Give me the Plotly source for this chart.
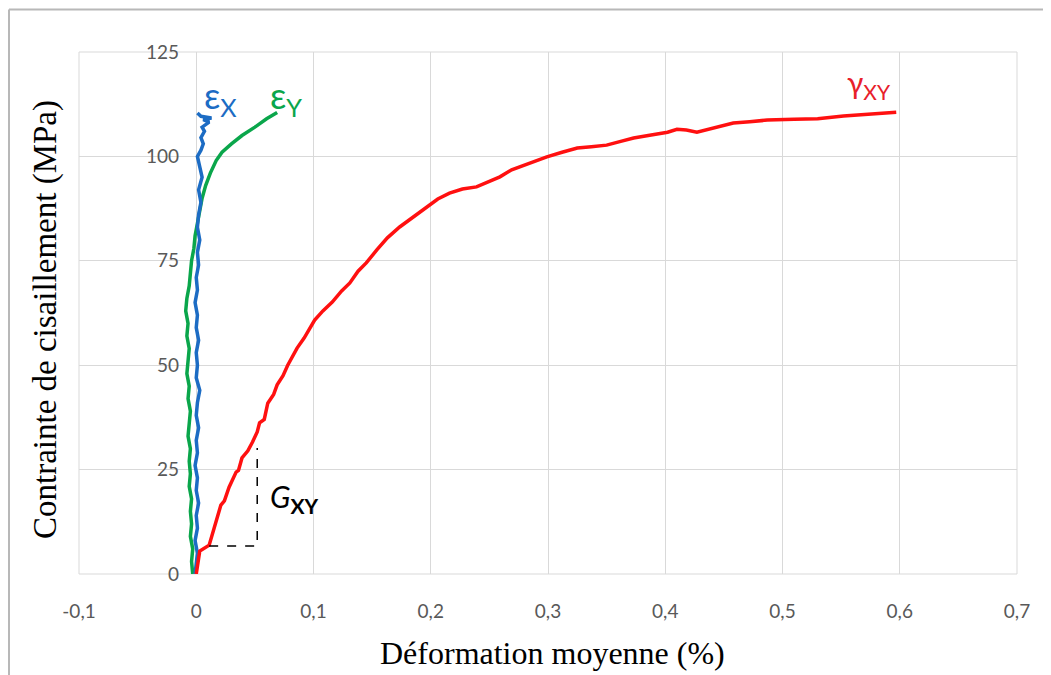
import plotly.graph_objects as go

# gamma_xy (red) : shear strain vs shear stress
gxy_x = [0, 0.002, 0.003, 0.011, 0.014, 0.016, 0.021, 0.024, 0.028, 0.034, 0.036, 0.039,
         0.044, 0.048, 0.052, 0.054, 0.058, 0.061, 0.066, 0.069, 0.074, 0.078, 0.082, 0.086,
         0.092, 0.097, 0.101, 0.108, 0.116, 0.124, 0.131, 0.138, 0.145, 0.154, 0.163, 0.1735,
         0.185, 0.197, 0.206, 0.216, 0.227, 0.239, 0.249, 0.259, 0.269, 0.279, 0.289, 0.299,
         0.312, 0.325, 0.337, 0.350, 0.362, 0.373, 0.388, 0.402, 0.410, 0.418, 0.427, 0.442,
         0.458, 0.472, 0.487, 0.510, 0.530, 0.552, 0.570, 0.586, 0.597]
gxy_y = [0, 3, 5.5, 6.9, 10, 11.3, 16.5, 17.5, 20.8, 24.4, 24.8, 27.8,
         29.5, 31.6, 34, 36.2, 37, 40.9, 43, 45.3, 47.5, 50.0, 52, 54.1,
         56.5, 58.9, 60.8, 63, 65.1, 67.8, 69.7, 72.5, 74.5, 77.6, 80.5, 83.1,
         85.5, 87.9, 89.8, 91.2, 92.2, 92.7, 94.0, 95.1, 96.8, 97.9, 98.8, 99.9,
         101.0, 102.0, 102.3, 102.7, 103.6, 104.4, 105.1, 105.8, 106.5, 106.3, 105.8, 106.8,
         108.0, 108.3, 108.7, 108.9, 109.0, 109.7, 110.0, 110.4, 110.6]

# eps_x (blue)
ex_x = [-0.001, 0.0, 0.001, -0.001, 0.001, 0.0, 0.002, 0.0, 0.001, -0.001, 0.001, 0.0,
        0.002, 0.0, 0.001, 0.003, 0.0, 0.001, 0.0, 0.002, 0.0, 0.001, -0.001, 0.001,
        0.0, 0.002, 0.001, 0.003, 0.001, 0.002, 0.004, 0.002, 0.005, 0.003, 0.001, 0.004,
        0.006, 0.004, 0.007, 0.005, 0.011, 0.006, 0.013, 0.004, 0.001]
ex_y = [0, 2, 5, 8, 11, 14, 17, 20, 23, 26, 29, 32,
        35, 38, 41, 44, 47, 50, 53, 56, 59, 62, 65, 68,
        71, 74, 77, 80, 83, 86, 89, 92, 95, 97.5, 100, 101.5,
        103, 104.5, 106, 107, 108.2, 108.8, 109.2, 109.6, 110.4]

# eps_y (green)
ey_x = [-0.003, -0.004, -0.003, -0.005, -0.004, -0.005, -0.004, -0.006, -0.005, -0.006,
        -0.005, -0.007, -0.006, -0.005, -0.007, -0.006, -0.008, -0.007, -0.006, -0.008,
        -0.007, -0.009, -0.008, -0.006, -0.005, -0.004, -0.002, -0.001, 0.001, 0.003,
        0.005, 0.008, 0.012, 0.017, 0.022, 0.030, 0.039, 0.050, 0.060, 0.069]
ey_y = [0, 3, 6, 9, 12, 15, 18, 21, 24, 27,
        30, 33, 36, 39, 42, 45, 48, 51, 54, 57,
        60, 63, 66, 69, 72, 75, 78, 81, 84, 87,
        90, 93, 96, 99, 101, 103, 105, 107, 109, 110.5]

# slope triangle for G_XY
tri_x = [0.011, 0.052, 0.052]
tri_y = [6.7, 6.7, 30.2]

x_ticks = [-0.1, 0, 0.1, 0.2, 0.3, 0.4, 0.5, 0.6, 0.7]
x_labels = ["-0,1", "0", "0,1", "0,2", "0,3", "0,4", "0,5", "0,6", "0,7"]
y_ticks = [0, 25, 50, 75, 100, 125]

# page body has an 8px margin: plot area sits at x 79..1017, y 52..574 in the window
OFF = 8
W, H = 1051 - OFF, 675 - OFF
L, R, T, B = 79, 1017, 52, 574


def px(xp):
    return (xp - L) / (R - L)


def py(yp):
    return (B - yp) / (B - T)


fig = go.Figure()
fig.add_trace(go.Scatter(x=ey_x, y=ey_y, mode="lines", line=dict(color="#0aa64b", width=3.5)))
fig.add_trace(go.Scatter(x=ex_x, y=ex_y, mode="lines", line=dict(color="#1c6cc4", width=3.5)))
fig.add_trace(go.Scatter(x=gxy_x, y=gxy_y, mode="lines", line=dict(color="#ff1010", width=3.5)))
fig.add_trace(go.Scatter(x=tri_x, y=tri_y, mode="lines", line=dict(color="black", width=1.5, dash="dash")))

lab = dict(family="Lato, Open Sans, sans-serif", size=36)
fig.add_annotation(x=0.005, y=114.2, text="ε<sub>X</sub>", showarrow=False, xanchor="left",
                   yanchor="middle", font=dict(lab, color="#1c6cc4"))
fig.add_annotation(x=0.061, y=114.0, text="ε<sub>Y</sub>", showarrow=False, xanchor="left",
                   yanchor="middle", font=dict(lab, color="#0aa64b"))
fig.add_annotation(x=0.553, y=117.3, text="γ<sub>XY</sub>", showarrow=False, xanchor="left",
                   yanchor="middle",
                   font=dict(family="Lato, Open Sans, sans-serif", size=30, color="#e8202a"))
fig.add_annotation(x=0.061, y=18.2, text="<i>G</i><sub><b>XY</b></sub>", showarrow=False,
                   xanchor="left", yanchor="middle",
                   font=dict(family="Lato, Open Sans, sans-serif", size=30, color="black"))

# axis titles
fig.add_annotation(xref="paper", yref="paper", x=px(552), y=py(653), xanchor="center",
                   yanchor="middle", text="Déformation moyenne (%)", showarrow=False,
                   font=dict(family="Liberation Serif", size=32, color="black"))
fig.add_annotation(xref="paper", yref="paper", x=px(45), y=py(320), xanchor="center",
                   yanchor="middle", text="Contrainte de cisaillement (MPa)", showarrow=False,
                   textangle=-90, font=dict(family="Liberation Serif", size=33, color="black"))

# outer frame (top and left) of chart area
fig.add_shape(type="line", xref="paper", yref="paper", x0=px(9), x1=1.1,
              y0=py(9.5), y1=py(9.5), line=dict(color="#b8b8b8", width=2))
fig.add_shape(type="line", xref="paper", yref="paper", x0=px(9), x1=px(9),
              y0=py(9.5), y1=-0.25, line=dict(color="#b8b8b8", width=2))
# plot area border
fig.add_shape(type="rect", xref="paper", yref="paper", x0=0, x1=1, y0=0, y1=1,
              line=dict(color="#d9d9d9", width=1), layer="below")

tick_font = dict(family="Lato, Open Sans, sans-serif", size=19, color="#595959")
fig.update_layout(
    width=W, height=H,
    margin=dict(l=L - OFF, r=W + OFF - R, t=T - OFF, b=H + OFF - B),
    paper_bgcolor="white", plot_bgcolor="white",
    showlegend=False,
    xaxis=dict(range=[-0.1, 0.7], tickvals=x_ticks, ticktext=x_labels, showgrid=True,
               gridcolor="#d9d9d9", gridwidth=1, zeroline=False, showline=False,
               tickfont=tick_font, ticks="", ticklabelstandoff=24),
    yaxis=dict(range=[0, 125], tickvals=y_ticks, showgrid=True, gridcolor="#d9d9d9",
               gridwidth=1, zeroline=False, showline=False, tickfont=tick_font, ticks="",
               anchor="free", position=px(197), ticklabelstandoff=18),
)

fig.write_html("out.html")
